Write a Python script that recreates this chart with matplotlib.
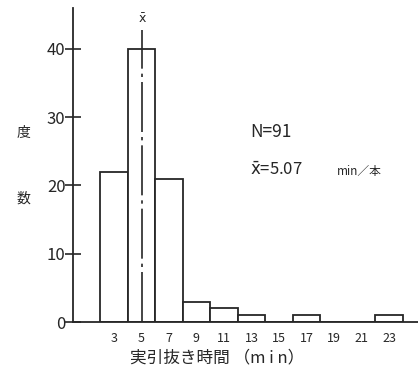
import matplotlib
matplotlib.use("Agg")
import matplotlib.pyplot as plt

plt.rcParams['font.family'] = ['Noto Sans CJK JP', 'DejaVu Sans']
plt.rcParams['mathtext.fontset'] = 'dejavusans'

INK = "#262626"

# bin centres (min) and counts
bin_centers = [3, 5, 7, 9, 11, 13, 15, 17, 19, 21, 23]
counts = [22, 40, 21, 3, 2, 1, 0, 1, 0, 0, 1]
bin_width = 2
mean_val = 5.07
n_total = 91
y_ticks = [0, 10, 20, 30, 40]

fig = plt.figure(figsize=(4.18, 3.72), dpi=100, facecolor="white")
ax = fig.add_axes([0.1735, 0.1344, 0.8265, 0.844])

ax.bar(bin_centers, counts, width=bin_width, facecolor="white",
       edgecolor=INK, linewidth=1.3, align="center")

# mean line (dash-dot)
ax.plot([mean_val, mean_val], [0, 42.8], color=INK, linewidth=1.2,
        linestyle=(0, (30, 3, 2, 3)))
ax.text(mean_val, 44.3, r"$\bar{\mathrm{x}}$", ha="center", va="center",
        fontsize=9, color=INK)

ax.set_xlim(0, 25.1)
ax.set_ylim(0, 46)

ax.set_yticks(y_ticks)
ax.set_yticklabels([str(v) for v in y_ticks], fontsize=12, color=INK)
ax.tick_params(axis="y", direction="inout", length=12, width=1.2, color=INK, pad=-1)
ax.set_xticks(bin_centers)
ax.set_xticklabels([str(v) for v in bin_centers], fontsize=9, color=INK)
ax.tick_params(axis="x", length=0, pad=7)

for side in ["top", "right"]:
    ax.spines[side].set_visible(False)
for side in ["left", "bottom"]:
    ax.spines[side].set_color(INK)
    ax.spines[side].set_linewidth(1.3)

ax.set_xlabel("実引抜き時間 （m i n）", fontsize=12, color=INK)
ax.xaxis.set_label_coords(0.42, -0.088)

# vertical y label, one character per line
fig.text(0.057, 0.642, "度", fontsize=10, color=INK, ha="center", va="center")
fig.text(0.057, 0.467, "数", fontsize=10, color=INK, ha="center", va="center")

ax.text(12.9, 27.8, f"N={n_total}", fontsize=12.5, color=INK, va="center")
ax.text(12.9, 22.2, r"$\bar{\mathrm{x}}$" + f"={mean_val}", fontsize=12,
        color=INK, va="center")
ax.text(19.2, 22.0, "min／本", fontsize=8.5, color=INK, va="center")

fig.savefig("out.png", dpi=100, facecolor="white")
